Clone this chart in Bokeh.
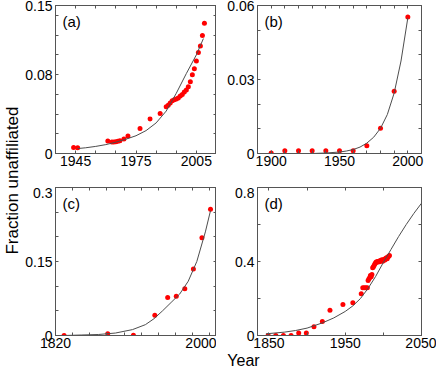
from bokeh.plotting import figure
from bokeh.models import FixedTicker, LinearAxis, Label, CustomJSTickFormatter, Range1d
from bokeh.layouts import row, column
from bokeh.embed import file_html
from bokeh.resources import INLINE

# ---------------- data ----------------
# (a)
a_years = [1944, 1946, 1961, 1963, 1964, 1965, 1966, 1967, 1969, 1971, 1977, 1982, 1987,
           1990, 1991, 1992, 1993, 1994, 1995, 1996, 1997, 1998, 1999, 2000, 2001, 2002,
           2003, 2004, 2005, 2006, 2007, 2008, 2009]
a_vals = [0.0061, 0.0058, 0.0126, 0.0116, 0.0116, 0.0120, 0.0123, 0.0130, 0.0146, 0.0177,
          0.0254, 0.0349, 0.0406,
          0.0474, 0.0488, 0.0512, 0.0535, 0.0545, 0.0552, 0.0562, 0.0583, 0.0599, 0.0623,
          0.0644, 0.0677, 0.0728, 0.0799, 0.0860, 0.0938, 0.1023, 0.1090, 0.1195, 0.1320]
a_fit_years = [1946, 1950, 1955, 1960, 1965, 1970, 1975, 1980, 1985, 1990, 1995, 2000, 2005, 2008.5]
a_fit_vals = [0.0050, 0.0058, 0.0072, 0.0090, 0.0115, 0.0145, 0.0180, 0.0232, 0.0310, 0.0430,
              0.0610, 0.0810, 0.1000, 0.1165]

# (b)
b_years = [1900, 1910, 1920, 1930, 1940, 1950, 1960, 1970, 1980, 1990, 2000]
b_vals = [0.0002, 0.0011, 0.0011, 0.0011, 0.0011, 0.0011, 0.0011, 0.0031, 0.0102, 0.0252, 0.0553]
b_fit_years = [1930, 1940, 1950, 1955, 1960, 1965, 1970, 1975, 1980, 1985, 1990, 1995, 2000]
b_fit_vals = [0.0000, 0.0002, 0.0006, 0.0010, 0.0016, 0.0026, 0.0042, 0.0066, 0.0102, 0.0158,
              0.0245, 0.0375, 0.0550]

# (c)
c_years = [1830, 1881, 1911, 1936, 1951, 1961, 1971, 1981, 1991, 2001]
c_vals = [0.000, 0.0034, 0.0006, 0.041, 0.077, 0.0796, 0.095, 0.1347, 0.198, 0.256]
c_fit_years = [1830, 1850, 1870, 1890, 1910, 1925, 1935, 1945, 1955, 1965, 1975, 1985, 1995, 2001]
c_fit_vals = [0.000, 0.001, 0.002, 0.005, 0.012, 0.022, 0.034, 0.050, 0.067, 0.084, 0.110,
              0.150, 0.210, 0.253]

# (d)
d_years = [1849, 1859, 1869, 1879, 1889, 1899, 1909, 1920, 1930, 1947, 1960, 1971,
           1973, 1975, 1977, 1979,
           1980, 1981, 1982, 1983, 1984, 1985, 1986, 1987, 1988, 1989, 1990, 1991, 1992,
           1993, 1994, 1995, 1996, 1997, 1998, 1999, 2000, 2001, 2002, 2003, 2004, 2005,
           2006, 2007, 2008]
d_vals = [0.0, 0.0, 0.0, 0.0, 0.014, 0.014, 0.047, 0.076, 0.137, 0.168, 0.177, 0.2255,
          0.258, 0.258, 0.258, 0.258,
          0.297, 0.305, 0.312, 0.325, 0.318, 0.330, 0.366, 0.372, 0.380, 0.388, 0.395,
          0.398, 0.396, 0.400, 0.402, 0.398, 0.405, 0.404, 0.410, 0.402, 0.406, 0.412,
          0.408, 0.416, 0.420, 0.415, 0.424, 0.428, 0.432]
d_fit_years = [1846, 1870, 1885, 1900, 1920, 1935, 1950, 1960, 1970, 1980, 1990, 2000, 2010,
               2020, 2030, 2040, 2050]
d_fit_vals = [0.009, 0.018, 0.027, 0.040, 0.068, 0.095, 0.130, 0.160, 0.200, 0.255, 0.320,
              0.395, 0.465, 0.535, 0.600, 0.660, 0.715]

# ticks
a_xticks, a_xminor = [1945, 1975, 2005], [1955, 1965, 1985, 1995]
a_yticks, a_yminor = [0, 0.08, 0.15], [0.02, 0.04, 0.06, 0.10, 0.12, 0.14]
b_xticks, b_xminor = [1900, 1950, 2000], [1910, 1920, 1930, 1940, 1960, 1970, 1980, 1990]
b_yticks, b_yminor = [0, 0.03, 0.06], [0.01, 0.02, 0.04, 0.05]
c_xticks, c_xminor = [1820, 2000], [1840, 1860, 1880, 1900, 1920, 1940, 1960, 1980]
c_yticks, c_yminor = [0, 0.15, 0.3], [0.05, 0.10, 0.20, 0.25]
d_xticks, d_xminor = [1850, 1950, 2050], [1900, 2000]
d_yticks, d_yminor = [0, 0.4, 0.8], [0.2, 0.6]

FONT = "Liberation Sans"
FRAME = "#555555"
TICKFS = "14px"


def make_axis(ticks, minor, show_labels, standoff=3):
    ax = LinearAxis(ticker=FixedTicker(ticks=ticks, minor_ticks=minor),
                    formatter=CustomJSTickFormatter(code="return String(tick)"))
    ax.axis_line_color = FRAME
    ax.major_tick_line_color = FRAME
    ax.minor_tick_line_color = FRAME
    ax.major_tick_in = 3
    ax.major_tick_out = 0
    ax.minor_tick_in = 3
    ax.minor_tick_out = 0
    if show_labels:
        ax.major_label_text_font = FONT
        ax.major_label_text_font_size = TICKFS
        ax.major_label_text_color = "black"
        ax.major_label_standoff = standoff
    else:
        ax.major_label_text_color = None
        ax.major_label_text_font_size = "0px"
        ax.major_label_standoff = 0
    return ax


def panel(width, height, xr, yr, xt, xm, yt, ym, bl, br, bt, bb, letter):
    p = figure(width=width, height=height, x_range=Range1d(*xr), y_range=Range1d(*yr),
               output_backend="svg", toolbar_location=None,
               x_axis_type=None, y_axis_type=None,
               min_border_left=bl, min_border_right=br, min_border_top=bt, min_border_bottom=bb)
    p.outline_line_color = FRAME
    p.background_fill_color = "white"
    p.border_fill_color = "white"
    p.add_layout(make_axis(xt, xm, True, standoff=2), "below")
    p.add_layout(make_axis(yt, ym, True), "left")
    p.add_layout(make_axis(xt, xm, False), "above")
    p.add_layout(make_axis(yt, ym, False), "right")
    p.add_layout(Label(x=7, y=height - bt - bb - 7, x_units="screen", y_units="screen",
                       text=letter, text_font=FONT, text_font_size="15px",
                       text_baseline="top", text_align="left", text_color="black"))
    return p


pa = panel(194, 187, (1935, 2015), (0, 0.15), a_xticks, a_xminor, a_yticks, a_yminor,
           30, 0, 5, 34, "(a)")
pa.scatter(a_years, a_vals, size=5, color="red", line_color=None)
pa.line(a_fit_years, a_fit_vals, line_color="#4d4d4d", line_width=1)

pb = panel(220, 187, (1890, 2010), (0, 0.06), b_xticks, b_xminor, b_yticks, b_yminor,
           41, 15, 5, 34, "(b)")
pb.scatter(b_years, b_vals, size=5, color="red", line_color=None)
pb.line(b_fit_years, b_fit_vals, line_color="#4d4d4d", line_width=1)

pc = panel(194, 166, (1820, 2008), (0, 0.3), c_xticks, c_xminor, c_yticks, c_yminor,
           30, 0, 0, 18, "(c)")
pc.scatter(c_years, c_vals, size=5, color="red", line_color=None)
pc.line(c_fit_years, c_fit_vals, line_color="#4d4d4d", line_width=1)

pd_ = panel(220, 166, (1835, 2050), (0, 0.8), d_xticks, d_xminor, d_yticks, d_yminor,
            41, 15, 0, 18, "(d)")
pd_.scatter(d_years, d_vals, size=5, color="red", line_color=None)
pd_.line(d_fit_years, d_fit_vals, line_color="#4d4d4d", line_width=1)

# "Year" strip below the bottom row
xl = figure(width=414, height=14, x_range=Range1d(0, 414), y_range=Range1d(0, 14),
            output_backend="svg", toolbar_location=None, x_axis_type=None, y_axis_type=None,
            min_border=0, title=None)
xl.outline_line_color = None
xl.add_layout(Label(x=221, y=7, text="Year", text_font=FONT, text_font_size="16px",
                    text_align="center", text_baseline="middle", text_color="black"))

# vertical y-label strip on the left
yl = figure(width=22, height=367, x_range=Range1d(0, 22), y_range=Range1d(0, 367),
            output_backend="svg", toolbar_location=None, x_axis_type=None, y_axis_type=None,
            min_border=0, title=None)
yl.outline_line_color = None
yl.add_layout(Label(x=12, y=187, text="Fraction unaffiliated", angle=90, angle_units="deg",
                    text_font=FONT, text_font_size="17px", text_align="center",
                    text_baseline="middle", text_color="black"))

layout = row(yl, column(row(pa, pb), row(pc, pd_), xl))

open("out.html", "w").write(file_html(layout, INLINE))
